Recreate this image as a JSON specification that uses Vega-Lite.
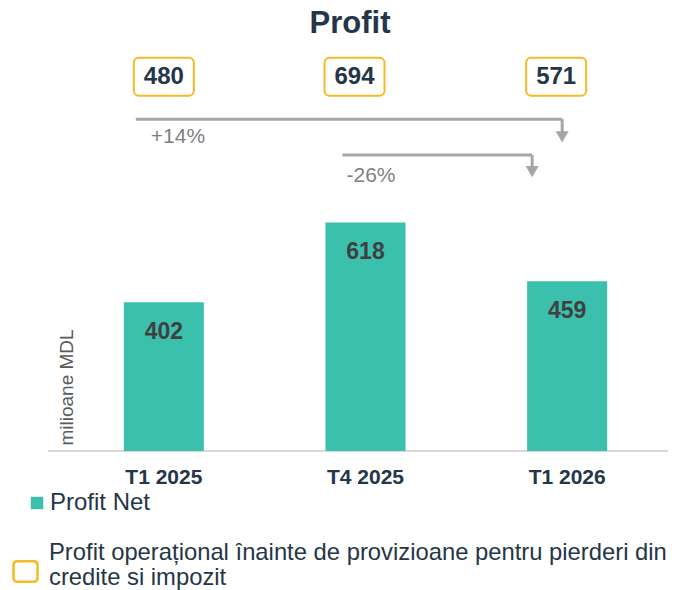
{
  "$schema": "https://vega.github.io/schema/vega-lite/v6.json",
  "width": 620,
  "height": 401,
  "autosize": {"type": "none"},
  "padding": {"left": 48, "top": 50, "right": 18, "bottom": 139},
  "config": {"font": "Liberation Sans", "view": {"stroke": null}},
  "title": {"text": "Profit", "fontSize": 31, "fontWeight": "bold", "color": "#243647", "anchor": "middle", "dx": -8, "offset": 10},
  "datasets": {
    "periods": [
      {"period": "T1 2025", "net": 402, "oper": 480},
      {"period": "T4 2025", "net": 618, "oper": 694},
      {"period": "T1 2026", "net": 459, "oper": 571}
    ],
    "changes": [
      {"from": "T1 2025", "to": "T1 2026", "change": "+14%"},
      {"from": "T4 2025", "to": "T1 2026", "change": "-26%"}
    ]
  },
  "data": {"name": "periods"},
  "layer": [
    {
      "mark": {"type": "rule", "color": "#d9d9d9", "strokeWidth": 2},
      "encoding": {"y": {"datum": 0, "type": "quantitative"}}
    },
    {
      "mark": {"type": "bar", "color": "#3cc0ae"},
      "encoding": {
        "x": {
          "field": "period", "type": "nominal",
          "scale": {"domain": ["T1 2025", "T4 2025", "T1 2026"], "range": [15, 620], "paddingInner": 0.603, "paddingOuter": 0.3015},
          "axis": {"title": null, "domain": false, "ticks": false, "labelAngle": 0, "labelFontSize": 21, "labelFontWeight": "bold", "labelColor": "#243647", "labelPadding": 15}
        },
        "y": {
          "field": "net", "type": "quantitative",
          "scale": {"domain": [0, 1084], "nice": false},
          "axis": {"title": "milioane MDL", "labels": false, "ticks": false, "domain": false, "grid": false, "titleFontSize": 19, "titleFontWeight": "normal", "titleColor": "#595959", "titleAnchor": "start", "titleAlign": "left", "titleX": 28, "titleY": 395}
        },
        "color": {
          "datum": "Profit Net", "type": "nominal",
          "scale": {"range": ["#3cc0ae"]},
          "legend": {"orient": "none", "legendX": -23, "legendY": 441, "title": null, "symbolType": "square", "symbolSize": 156, "symbolStrokeWidth": 0, "labelFontSize": 24, "labelColor": "#243647", "labelOffset": 1, "padding": 0}
        }
      }
    },
    {
      "mark": {"type": "text", "dy": 30, "baseline": "middle", "fontSize": 23, "fontWeight": "bold", "color": "#404040"},
      "encoding": {
        "x": {"field": "period", "type": "nominal", "scale": {"domain": ["T1 2025", "T4 2025", "T1 2026"]}},
        "y": {"field": "net", "type": "quantitative"},
        "text": {"field": "net", "type": "quantitative"}
      }
    },
    {
      "transform": [{"filter": "datum.period === 'T1 2025'"}],
      "layer": [
        {
          "mark": {"type": "bar", "width": 60, "fill": "white", "strokeWidth": 2, "cornerRadius": 5},
          "encoding": {
            "x": {"field": "period", "type": "nominal", "scale": {"domain": ["T1 2025", "T4 2025", "T1 2026"]}},
            "y": {"datum": 960, "type": "quantitative"},
            "y2": {"datum": 1063},
            "stroke": {
              "datum": "Profit operațional înainte de provizioane pentru pierderi din credite si impozit", "type": "nominal",
              "scale": {"range": ["#f7b924"]},
              "legend": {"orient": "none", "legendX": -36, "legendY": 502, "title": null, "symbolType": "M-0.7,-0.35 H0.7 Q1,-0.35 1,-0.05 V1.05 Q1,1.35 0.7,1.35 H-0.7 Q-1,1.35 -1,1.05 V-0.05 Q-1,-0.35 -0.7,-0.35 Z", "symbolSize": 576, "symbolStrokeWidth": 2.5, "symbolFillColor": "white", "labelFontSize": 23.8, "labelColor": "#243647", "labelOffset": 10, "labelLimit": 700, "labelBaseline": "line-bottom", "padding": 0, "labelExpr": "split(replace(datum.label, ' credite', '|credite'), '|')"}
            }
          }
        },
        {
          "mark": {"type": "text", "baseline": "middle", "fontSize": 24, "fontWeight": "bold", "color": "#243647"},
          "encoding": {
            "x": {"field": "period", "type": "nominal", "scale": {"domain": ["T1 2025", "T4 2025", "T1 2026"]}},
            "y": {"datum": 1012, "type": "quantitative"},
            "text": {"field": "oper", "type": "quantitative"}
          }
        }
      ]
    },
    {
      "transform": [{"filter": "datum.period !== 'T1 2025'"}],
      "layer": [
        {
          "mark": {"type": "bar", "width": 60, "fill": "white", "strokeWidth": 2, "cornerRadius": 5, "xOffset": -11},
          "encoding": {
            "x": {"field": "period", "type": "nominal", "scale": {"domain": ["T1 2025", "T4 2025", "T1 2026"]}},
            "y": {"datum": 960, "type": "quantitative"},
            "y2": {"datum": 1063},
            "stroke": {"datum": "Profit operațional înainte de provizioane pentru pierderi din credite si impozit", "type": "nominal"}
          }
        },
        {
          "mark": {"type": "text", "baseline": "middle", "fontSize": 24, "fontWeight": "bold", "color": "#243647", "xOffset": -11},
          "encoding": {
            "x": {"field": "period", "type": "nominal", "scale": {"domain": ["T1 2025", "T4 2025", "T1 2026"]}},
            "y": {"datum": 1012, "type": "quantitative"},
            "text": {"field": "oper", "type": "quantitative"}
          }
        }
      ]
    },
    {
      "data": {"name": "changes"},
      "transform": [{"filter": "datum.change === '+14%'"}],
      "layer": [
        {
          "mark": {"type": "rule", "color": "#a6a6a6", "strokeWidth": 3, "xOffset": -28, "x2Offset": -5},
          "encoding": {
            "x": {"field": "from", "type": "nominal", "scale": {"domain": ["T1 2025", "T4 2025", "T1 2026"]}},
            "x2": {"field": "to"},
            "y": {"datum": 897, "type": "quantitative"}
          }
        },
        {
          "mark": {"type": "rule", "color": "#a6a6a6", "strokeWidth": 3, "xOffset": -5},
          "encoding": {
            "x": {"field": "to", "type": "nominal", "scale": {"domain": ["T1 2025", "T4 2025", "T1 2026"]}},
            "y": {"datum": 897, "type": "quantitative"},
            "y2": {"datum": 862}
          }
        },
        {
          "mark": {"type": "point", "shape": "triangle-down", "filled": true, "size": 170, "color": "#a6a6a6", "opacity": 1, "xOffset": -5},
          "encoding": {
            "x": {"field": "to", "type": "nominal", "scale": {"domain": ["T1 2025", "T4 2025", "T1 2026"]}},
            "y": {"datum": 849, "type": "quantitative"}
          }
        },
        {
          "mark": {"type": "text", "align": "left", "baseline": "middle", "fontSize": 21, "color": "#7f7f7f", "xOffset": -13},
          "encoding": {
            "x": {"field": "from", "type": "nominal", "scale": {"domain": ["T1 2025", "T4 2025", "T1 2026"]}},
            "y": {"datum": 849, "type": "quantitative"},
            "text": {"field": "change", "type": "nominal"}
          }
        }
      ]
    },
    {
      "data": {"name": "changes"},
      "transform": [{"filter": "datum.change === '-26%'"}],
      "layer": [
        {
          "mark": {"type": "rule", "color": "#a6a6a6", "strokeWidth": 3, "xOffset": -23, "x2Offset": -35},
          "encoding": {
            "x": {"field": "from", "type": "nominal", "scale": {"domain": ["T1 2025", "T4 2025", "T1 2026"]}},
            "x2": {"field": "to"},
            "y": {"datum": 800, "type": "quantitative"}
          }
        },
        {
          "mark": {"type": "rule", "color": "#a6a6a6", "strokeWidth": 3, "xOffset": -35},
          "encoding": {
            "x": {"field": "to", "type": "nominal", "scale": {"domain": ["T1 2025", "T4 2025", "T1 2026"]}},
            "y": {"datum": 800, "type": "quantitative"},
            "y2": {"datum": 770}
          }
        },
        {
          "mark": {"type": "point", "shape": "triangle-down", "filled": true, "size": 170, "color": "#a6a6a6", "opacity": 1, "xOffset": -35},
          "encoding": {
            "x": {"field": "to", "type": "nominal", "scale": {"domain": ["T1 2025", "T4 2025", "T1 2026"]}},
            "y": {"datum": 755, "type": "quantitative"}
          }
        },
        {
          "mark": {"type": "text", "align": "left", "baseline": "middle", "fontSize": 21, "color": "#7f7f7f", "xOffset": -19},
          "encoding": {
            "x": {"field": "from", "type": "nominal", "scale": {"domain": ["T1 2025", "T4 2025", "T1 2026"]}},
            "y": {"datum": 743, "type": "quantitative"},
            "text": {"field": "change", "type": "nominal"}
          }
        }
      ]
    }
  ]
}
